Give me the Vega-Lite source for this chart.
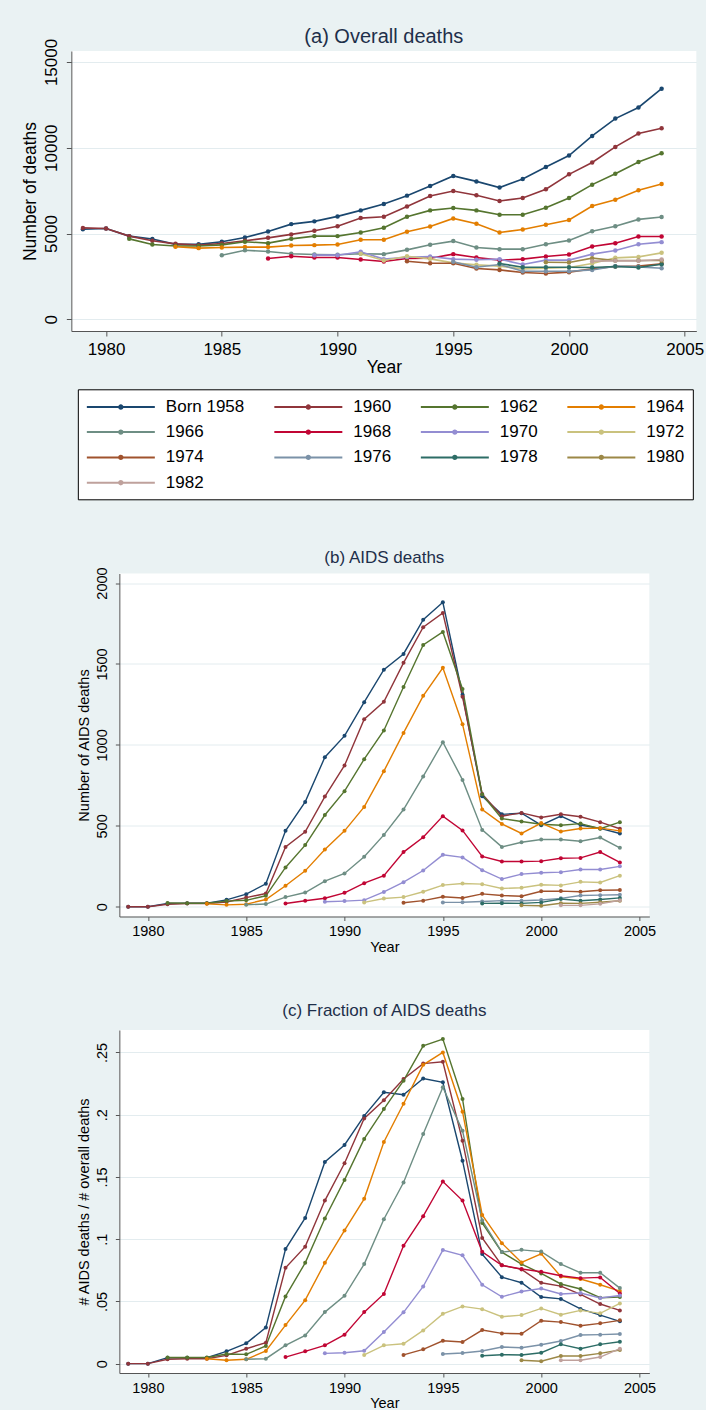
{
  "$schema": "https://vega.github.io/schema/vega-lite/v6.json",
  "background": "#eaf2f3",
  "padding": {"left": 21, "top": 27, "right": 2, "bottom": 0},
  "spacing": 48.5,
  "center": true,
  "resolve": {"scale": {"color": "independent", "fill": "independent", "x": "independent", "y": "independent"}, "legend": {"color": "independent", "fill": "independent"}},
  "config": {
    "font": "Liberation Sans",
    "view": {"fill": "white", "stroke": null},
    "axis": {"domainColor": "#555555", "tickColor": "#555555", "labelColor": "#000000", "titleColor": "#000000", "titleFontWeight": "normal", "gridColor": "#e3ecef", "gridWidth": 1, "labelFont": "Liberation Sans", "titleFont": "Liberation Sans"},
    "title": {"font": "Liberation Sans", "fontWeight": "normal", "color": "#1e2f4a", "anchor": "middle", "frame": "group"}
  },
  "datasets": {
    "cohorts": [
      {"cohort":"Born 1958","year":1979,"overall":5250,"aids":0,"fraction":0},
      {"cohort":"Born 1958","year":1980,"overall":5290,"aids":0,"fraction":0},
      {"cohort":"Born 1958","year":1981,"overall":4850,"aids":20,"fraction":0.0048},
      {"cohort":"Born 1958","year":1982,"overall":4680,"aids":22,"fraction":0.0048},
      {"cohort":"Born 1958","year":1983,"overall":4370,"aids":22,"fraction":0.0048},
      {"cohort":"Born 1958","year":1984,"overall":4370,"aids":43,"fraction":0.0099},
      {"cohort":"Born 1958","year":1985,"overall":4520,"aids":78,"fraction":0.0163},
      {"cohort":"Born 1958","year":1986,"overall":4770,"aids":142,"fraction":0.029},
      {"cohort":"Born 1958","year":1987,"overall":5120,"aids":469,"fraction":0.092},
      {"cohort":"Born 1958","year":1988,"overall":5550,"aids":648,"fraction":0.117},
      {"cohort":"Born 1958","year":1989,"overall":5710,"aids":924,"fraction":0.162},
      {"cohort":"Born 1958","year":1990,"overall":6000,"aids":1056,"fraction":0.1757},
      {"cohort":"Born 1958","year":1991,"overall":6350,"aids":1264,"fraction":0.199},
      {"cohort":"Born 1958","year":1992,"overall":6720,"aids":1465,"fraction":0.218},
      {"cohort":"Born 1958","year":1993,"overall":7210,"aids":1562,"fraction":0.216},
      {"cohort":"Born 1958","year":1994,"overall":7770,"aids":1774,"fraction":0.229},
      {"cohort":"Born 1958","year":1995,"overall":8360,"aids":1881,"fraction":0.226},
      {"cohort":"Born 1958","year":1996,"overall":8040,"aids":1310,"fraction":0.163},
      {"cohort":"Born 1958","year":1997,"overall":7680,"aids":683,"fraction":0.088},
      {"cohort":"Born 1958","year":1998,"overall":8180,"aids":571,"fraction":0.0695},
      {"cohort":"Born 1958","year":1999,"overall":8880,"aids":578,"fraction":0.065},
      {"cohort":"Born 1958","year":2000,"overall":9545,"aids":504,"fraction":0.0535},
      {"cohort":"Born 1958","year":2001,"overall":10690,"aids":560,"fraction":0.052},
      {"cohort":"Born 1958","year":2002,"overall":11700,"aids":505,"fraction":0.044},
      {"cohort":"Born 1958","year":2003,"overall":12350,"aids":484,"fraction":0.039},
      {"cohort":"Born 1958","year":2004,"overall":13440,"aids":453,"fraction":0.034},
      {"cohort":"1960","year":1979,"overall":5330,"aids":0,"fraction":0},
      {"cohort":"1960","year":1980,"overall":5290,"aids":0,"fraction":0},
      {"cohort":"1960","year":1981,"overall":4850,"aids":16,"fraction":0.0035},
      {"cohort":"1960","year":1982,"overall":4580,"aids":20,"fraction":0.004},
      {"cohort":"1960","year":1983,"overall":4400,"aids":20,"fraction":0.004},
      {"cohort":"1960","year":1984,"overall":4325,"aids":30,"fraction":0.0067},
      {"cohort":"1960","year":1985,"overall":4420,"aids":57,"fraction":0.012},
      {"cohort":"1960","year":1986,"overall":4580,"aids":82,"fraction":0.0168},
      {"cohort":"1960","year":1987,"overall":4750,"aids":370,"fraction":0.077},
      {"cohort":"1960","year":1988,"overall":4950,"aids":463,"fraction":0.094},
      {"cohort":"1960","year":1989,"overall":5160,"aids":681,"fraction":0.131},
      {"cohort":"1960","year":1990,"overall":5430,"aids":873,"fraction":0.161},
      {"cohort":"1960","year":1991,"overall":5900,"aids":1159,"fraction":0.197},
      {"cohort":"1960","year":1992,"overall":5980,"aids":1266,"fraction":0.2115},
      {"cohort":"1960","year":1993,"overall":6580,"aids":1507,"fraction":0.2286},
      {"cohort":"1960","year":1994,"overall":7190,"aids":1727,"fraction":0.241},
      {"cohort":"1960","year":1995,"overall":7480,"aids":1815,"fraction":0.2425},
      {"cohort":"1960","year":1996,"overall":7230,"aids":1297,"fraction":0.179},
      {"cohort":"1960","year":1997,"overall":6900,"aids":697,"fraction":0.101},
      {"cohort":"1960","year":1998,"overall":7070,"aids":560,"fraction":0.079},
      {"cohort":"1960","year":1999,"overall":7580,"aids":580,"fraction":0.0757},
      {"cohort":"1960","year":2000,"overall":8450,"aids":552,"fraction":0.065},
      {"cohort":"1960","year":2001,"overall":9140,"aids":572,"fraction":0.0623},
      {"cohort":"1960","year":2002,"overall":10050,"aids":556,"fraction":0.0556},
      {"cohort":"1960","year":2003,"overall":10830,"aids":523,"fraction":0.0479},
      {"cohort":"1960","year":2004,"overall":11140,"aids":482,"fraction":0.0428},
      {"cohort":"1962","year":1981,"overall":4690,"aids":24,"fraction":0.005},
      {"cohort":"1962","year":1982,"overall":4360,"aids":22,"fraction":0.005},
      {"cohort":"1962","year":1983,"overall":4270,"aids":22,"fraction":0.005},
      {"cohort":"1962","year":1984,"overall":4270,"aids":35,"fraction":0.0078},
      {"cohort":"1962","year":1985,"overall":4340,"aids":40,"fraction":0.0075},
      {"cohort":"1962","year":1986,"overall":4520,"aids":68,"fraction":0.0142},
      {"cohort":"1962","year":1987,"overall":4440,"aids":243,"fraction":0.054},
      {"cohort":"1962","year":1988,"overall":4690,"aids":381,"fraction":0.081},
      {"cohort":"1962","year":1989,"overall":4850,"aids":567,"fraction":0.1166},
      {"cohort":"1962","year":1990,"overall":4850,"aids":714,"fraction":0.1476},
      {"cohort":"1962","year":1991,"overall":5065,"aids":912,"fraction":0.1805},
      {"cohort":"1962","year":1992,"overall":5340,"aids":1089,"fraction":0.2045},
      {"cohort":"1962","year":1993,"overall":5980,"aids":1358,"fraction":0.2273},
      {"cohort":"1962","year":1994,"overall":6350,"aids":1618,"fraction":0.2553},
      {"cohort":"1962","year":1995,"overall":6490,"aids":1698,"fraction":0.2607},
      {"cohort":"1962","year":1996,"overall":6350,"aids":1346,"fraction":0.2126},
      {"cohort":"1962","year":1997,"overall":6100,"aids":693,"fraction":0.113},
      {"cohort":"1962","year":1998,"overall":6100,"aids":545,"fraction":0.0896},
      {"cohort":"1962","year":1999,"overall":6505,"aids":527,"fraction":0.08},
      {"cohort":"1962","year":2000,"overall":7070,"aids":510,"fraction":0.0725},
      {"cohort":"1962","year":2001,"overall":7850,"aids":504,"fraction":0.064},
      {"cohort":"1962","year":2002,"overall":8490,"aids":514,"fraction":0.06},
      {"cohort":"1962","year":2003,"overall":9175,"aids":482,"fraction":0.053},
      {"cohort":"1962","year":2004,"overall":9680,"aids":523,"fraction":0.0535},
      {"cohort":"1964","year":1983,"overall":4230,"aids":18,"fraction":0.004},
      {"cohort":"1964","year":1984,"overall":4150,"aids":12,"fraction":0.0027},
      {"cohort":"1964","year":1985,"overall":4190,"aids":16,"fraction":0.0035},
      {"cohort":"1964","year":1986,"overall":4210,"aids":45,"fraction":0.0102},
      {"cohort":"1964","year":1987,"overall":4210,"aids":130,"fraction":0.031},
      {"cohort":"1964","year":1988,"overall":4300,"aids":222,"fraction":0.051},
      {"cohort":"1964","year":1989,"overall":4325,"aids":354,"fraction":0.081},
      {"cohort":"1964","year":1990,"overall":4360,"aids":469,"fraction":0.107},
      {"cohort":"1964","year":1991,"overall":4640,"aids":617,"fraction":0.1324},
      {"cohort":"1964","year":1992,"overall":4640,"aids":838,"fraction":0.178},
      {"cohort":"1964","year":1993,"overall":5100,"aids":1074,"fraction":0.2088},
      {"cohort":"1964","year":1994,"overall":5415,"aids":1303,"fraction":0.24},
      {"cohort":"1964","year":1995,"overall":5880,"aids":1476,"fraction":0.25},
      {"cohort":"1964","year":1996,"overall":5570,"aids":1128,"fraction":0.2024},
      {"cohort":"1964","year":1997,"overall":5065,"aids":601,"fraction":0.1195},
      {"cohort":"1964","year":1998,"overall":5240,"aids":512,"fraction":0.0968},
      {"cohort":"1964","year":1999,"overall":5510,"aids":453,"fraction":0.0813},
      {"cohort":"1964","year":2000,"overall":5790,"aids":517,"fraction":0.0882},
      {"cohort":"1964","year":2001,"overall":6600,"aids":465,"fraction":0.07},
      {"cohort":"1964","year":2002,"overall":6970,"aids":484,"fraction":0.068},
      {"cohort":"1964","year":2003,"overall":7520,"aids":486,"fraction":0.0634},
      {"cohort":"1964","year":2004,"overall":7890,"aids":469,"fraction":0.0583},
      {"cohort":"1966","year":1985,"overall":3740,"aids":13,"fraction":0.0035},
      {"cohort":"1966","year":1986,"overall":4030,"aids":17,"fraction":0.004},
      {"cohort":"1966","year":1987,"overall":3950,"aids":60,"fraction":0.0147},
      {"cohort":"1966","year":1988,"overall":3820,"aids":88,"fraction":0.0227},
      {"cohort":"1966","year":1989,"overall":3780,"aids":158,"fraction":0.0414},
      {"cohort":"1966","year":1990,"overall":3760,"aids":206,"fraction":0.0545},
      {"cohort":"1966","year":1991,"overall":3820,"aids":309,"fraction":0.08},
      {"cohort":"1966","year":1992,"overall":3800,"aids":444,"fraction":0.116},
      {"cohort":"1966","year":1993,"overall":4050,"aids":601,"fraction":0.1455},
      {"cohort":"1966","year":1994,"overall":4345,"aids":805,"fraction":0.1845},
      {"cohort":"1966","year":1995,"overall":4560,"aids":1017,"fraction":0.222},
      {"cohort":"1966","year":1996,"overall":4190,"aids":784,"fraction":0.187},
      {"cohort":"1966","year":1997,"overall":4090,"aids":475,"fraction":0.115},
      {"cohort":"1966","year":1998,"overall":4090,"aids":370,"fraction":0.0896},
      {"cohort":"1966","year":1999,"overall":4380,"aids":399,"fraction":0.0914},
      {"cohort":"1966","year":2000,"overall":4600,"aids":416,"fraction":0.09},
      {"cohort":"1966","year":2001,"overall":5140,"aids":416,"fraction":0.08},
      {"cohort":"1966","year":2002,"overall":5430,"aids":405,"fraction":0.073},
      {"cohort":"1966","year":2003,"overall":5825,"aids":428,"fraction":0.073},
      {"cohort":"1966","year":2004,"overall":5960,"aids":364,"fraction":0.0607},
      {"cohort":"1968","year":1987,"overall":3545,"aids":20,"fraction":0.0053},
      {"cohort":"1968","year":1988,"overall":3680,"aids":37,"fraction":0.0099},
      {"cohort":"1968","year":1989,"overall":3600,"aids":53,"fraction":0.0147},
      {"cohort":"1968","year":1990,"overall":3600,"aids":86,"fraction":0.0233},
      {"cohort":"1968","year":1991,"overall":3490,"aids":146,"fraction":0.0414},
      {"cohort":"1968","year":1992,"overall":3370,"aids":192,"fraction":0.056},
      {"cohort":"1968","year":1993,"overall":3545,"aids":338,"fraction":0.0947},
      {"cohort":"1968","year":1994,"overall":3565,"aids":430,"fraction":0.1185},
      {"cohort":"1968","year":1995,"overall":3800,"aids":560,"fraction":0.1463},
      {"cohort":"1968","year":1996,"overall":3600,"aids":472,"fraction":0.131},
      {"cohort":"1968","year":1997,"overall":3450,"aids":311,"fraction":0.0898},
      {"cohort":"1968","year":1998,"overall":3510,"aids":280,"fraction":0.079},
      {"cohort":"1968","year":1999,"overall":3660,"aids":280,"fraction":0.076},
      {"cohort":"1968","year":2000,"overall":3780,"aids":282,"fraction":0.0738},
      {"cohort":"1968","year":2001,"overall":4250,"aids":300,"fraction":0.0706},
      {"cohort":"1968","year":2002,"overall":4440,"aids":302,"fraction":0.0687},
      {"cohort":"1968","year":2003,"overall":4830,"aids":338,"fraction":0.0693},
      {"cohort":"1968","year":2004,"overall":4830,"aids":274,"fraction":0.0564},
      {"cohort":"1970","year":1989,"overall":3740,"aids":31,"fraction":0.0083},
      {"cohort":"1970","year":1990,"overall":3740,"aids":35,"fraction":0.0088},
      {"cohort":"1970","year":1991,"overall":3935,"aids":41,"fraction":0.0104},
      {"cohort":"1970","year":1992,"overall":3510,"aids":92,"fraction":0.0254},
      {"cohort":"1970","year":1993,"overall":3620,"aids":152,"fraction":0.0412},
      {"cohort":"1970","year":1994,"overall":3660,"aids":224,"fraction":0.062},
      {"cohort":"1970","year":1995,"overall":3510,"aids":321,"fraction":0.0912},
      {"cohort":"1970","year":1996,"overall":3470,"aids":305,"fraction":0.087},
      {"cohort":"1970","year":1997,"overall":3510,"aids":226,"fraction":0.0634},
      {"cohort":"1970","year":1998,"overall":3195,"aids":171,"fraction":0.0537},
      {"cohort":"1970","year":1999,"overall":3450,"aids":202,"fraction":0.058},
      {"cohort":"1970","year":2000,"overall":3450,"aids":210,"fraction":0.0604},
      {"cohort":"1970","year":2001,"overall":3800,"aids":214,"fraction":0.056},
      {"cohort":"1970","year":2002,"overall":4010,"aids":230,"fraction":0.0567},
      {"cohort":"1970","year":2003,"overall":4380,"aids":230,"fraction":0.0527},
      {"cohort":"1970","year":2004,"overall":4500,"aids":250,"fraction":0.0548},
      {"cohort":"1972","year":1991,"overall":3820,"aids":27,"fraction":0.007},
      {"cohort":"1972","year":1992,"overall":3430,"aids":51,"fraction":0.0147},
      {"cohort":"1972","year":1993,"overall":3680,"aids":60,"fraction":0.016},
      {"cohort":"1972","year":1994,"overall":3525,"aids":93,"fraction":0.0267},
      {"cohort":"1972","year":1995,"overall":3290,"aids":134,"fraction":0.04},
      {"cohort":"1972","year":1996,"overall":3175,"aids":144,"fraction":0.046},
      {"cohort":"1972","year":1997,"overall":3100,"aids":140,"fraction":0.0438},
      {"cohort":"1972","year":1998,"overall":2940,"aids":113,"fraction":0.0377},
      {"cohort":"1972","year":1999,"overall":2980,"aids":118,"fraction":0.039},
      {"cohort":"1972","year":2000,"overall":3020,"aids":136,"fraction":0.0444},
      {"cohort":"1972","year":2001,"overall":3255,"aids":132,"fraction":0.0393},
      {"cohort":"1972","year":2002,"overall":3585,"aids":154,"fraction":0.0428},
      {"cohort":"1972","year":2003,"overall":3640,"aids":150,"fraction":0.0404},
      {"cohort":"1972","year":2004,"overall":3875,"aids":192,"fraction":0.0484},
      {"cohort":"1974","year":1993,"overall":3390,"aids":25,"fraction":0.007},
      {"cohort":"1974","year":1994,"overall":3270,"aids":38,"fraction":0.0115},
      {"cohort":"1974","year":1995,"overall":3270,"aids":62,"fraction":0.0184},
      {"cohort":"1974","year":1996,"overall":2960,"aids":54,"fraction":0.0174},
      {"cohort":"1974","year":1997,"overall":2880,"aids":80,"fraction":0.027},
      {"cohort":"1974","year":1998,"overall":2730,"aids":70,"fraction":0.0243},
      {"cohort":"1974","year":1999,"overall":2670,"aids":65,"fraction":0.024},
      {"cohort":"1974","year":2000,"overall":2750,"aids":96,"fraction":0.0345},
      {"cohort":"1974","year":2001,"overall":2940,"aids":97,"fraction":0.0334},
      {"cohort":"1974","year":2002,"overall":3080,"aids":93,"fraction":0.0305},
      {"cohort":"1974","year":2003,"overall":3100,"aids":102,"fraction":0.0324},
      {"cohort":"1974","year":2004,"overall":3235,"aids":104,"fraction":0.0348},
      {"cohort":"1976","year":1995,"overall":3350,"aids":27,"fraction":0.0078},
      {"cohort":"1976","year":1996,"overall":3040,"aids":28,"fraction":0.0086},
      {"cohort":"1976","year":1997,"overall":3195,"aids":33,"fraction":0.0102},
      {"cohort":"1976","year":1998,"overall":2805,"aids":38,"fraction":0.0134},
      {"cohort":"1976","year":1999,"overall":2805,"aids":37,"fraction":0.0128},
      {"cohort":"1976","year":2000,"overall":2805,"aids":42,"fraction":0.0152},
      {"cohort":"1976","year":2001,"overall":2880,"aids":52,"fraction":0.0182},
      {"cohort":"1976","year":2002,"overall":3100,"aids":70,"fraction":0.023},
      {"cohort":"1976","year":2003,"overall":3060,"aids":72,"fraction":0.0233},
      {"cohort":"1976","year":2004,"overall":2980,"aids":74,"fraction":0.0238},
      {"cohort":"1978","year":1997,"overall":3255,"aids":21,"fraction":0.0064},
      {"cohort":"1978","year":1998,"overall":3040,"aids":22,"fraction":0.0072},
      {"cohort":"1978","year":1999,"overall":3040,"aids":21,"fraction":0.007},
      {"cohort":"1978","year":2000,"overall":3040,"aids":27,"fraction":0.0088},
      {"cohort":"1978","year":2001,"overall":3020,"aids":48,"fraction":0.0155},
      {"cohort":"1978","year":2002,"overall":3080,"aids":37,"fraction":0.012},
      {"cohort":"1978","year":2003,"overall":3020,"aids":45,"fraction":0.0155},
      {"cohort":"1978","year":2004,"overall":3215,"aids":55,"fraction":0.0176},
      {"cohort":"1980","year":1999,"overall":3330,"aids":9,"fraction":0.0027},
      {"cohort":"1980","year":2000,"overall":3310,"aids":6,"fraction":0.0019},
      {"cohort":"1980","year":2001,"overall":3565,"aids":22,"fraction":0.0061},
      {"cohort":"1980","year":2002,"overall":3430,"aids":21,"fraction":0.0061},
      {"cohort":"1980","year":2003,"overall":3430,"aids":28,"fraction":0.0083},
      {"cohort":"1980","year":2004,"overall":3430,"aids":37,"fraction":0.011},
      {"cohort":"1982","year":2001,"overall":3390,"aids":9,"fraction":0.0027},
      {"cohort":"1982","year":2002,"overall":3410,"aids":9,"fraction":0.0027},
      {"cohort":"1982","year":2003,"overall":3410,"aids":18,"fraction":0.0053},
      {"cohort":"1982","year":2004,"overall":3490,"aids":40,"fraction":0.012}
    ]
  },
  "vconcat": [
    {
      "width": 625,
      "height": 280,
      "title": {"text": "(a) Overall deaths", "fontSize": 20, "offset": -9},
      "data": {"name": "cohorts"},
      "encoding": {
        "x": {"field": "year", "type": "quantitative", "scale": {"domain": [1978.5, 2005.5], "nice": false, "zero": false},
              "axis": {"values": [1980, 1985, 1990, 1995, 2000, 2005], "format": "d", "title": "Year", "labelFontSize": 17, "titleFontSize": 17.5, "tickSize": 5, "labelPadding": 5, "titlePadding": 1, "labelFlush": false, "grid": false}},
        "y": {"field": "overall", "type": "quantitative", "scale": {"domain": [-680, 15640], "nice": false, "zero": false},
              "axis": {"values": [0, 5000, 10000, 15000], "format": "d", "title": "Number of deaths", "labelAngle": -90, "labelAlign": "center", "labelBaseline": "bottom", "labelFontSize": 17, "titleFontSize": 17.5, "tickSize": 5, "labelPadding": 6, "titlePadding": 2.5, "grid": true}}
      },
      "layer": [
        {
          "mark": {"type": "line", "strokeWidth": 1.6},
          "encoding": {
            "color": {"field": "cohort", "type": "nominal",
              "scale": {"domain": ["Born 1958", "1960", "1962", "1964", "1966", "1968", "1970", "1972", "1974", "1976", "1978", "1980", "1982"],
                        "range": ["#1a476f", "#90353b", "#55752f", "#e37e00", "#6e8e84", "#c10534", "#938dd2", "#cac27e", "#a0522d", "#7b92a8", "#2d6d66", "#9c8847", "#bfa19c"]},
              "legend": {"orient": "none", "legendX": 6.5, "legendY": 338.3, "direction": "horizontal", "columns": 4, "title": null,
                         "strokeColor": "#000000", "fillColor": "#ffffff", "padding": 8,
                         "symbolType": "M-4,0H4M0.2,0A0.2,0.2,0,1,1,-0.2,0A0.2,0.2,0,1,1,0.2,0",
                         "symbolSize": 289, "symbolStrokeWidth": 2, "symbolOffset": 25.5,
                         "labelOffset": 35.5, "labelFontSize": 17, "labelFont": "Liberation Sans", "labelColor": "#000000", "labelLimit": 200,
                         "columnPadding": 25.5, "rowPadding": 7.3}}
          }
        },
        {
          "mark": {"type": "point", "filled": true, "size": 20, "opacity": 1},
          "encoding": {
            "fill": {"field": "cohort", "type": "nominal",
              "scale": {"domain": ["Born 1958", "1960", "1962", "1964", "1966", "1968", "1970", "1972", "1974", "1976", "1978", "1980", "1982"],
                        "range": ["#1a476f", "#90353b", "#55752f", "#e37e00", "#6e8e84", "#c10534", "#938dd2", "#cac27e", "#a0522d", "#7b92a8", "#2d6d66", "#9c8847", "#bfa19c"]},
              "legend": null}
          }
        }
      ]
    },
    {
      "width": 530,
      "height": 343,
      "title": {"text": "(b) AIDS deaths", "fontSize": 17, "offset": -0.5},
      "data": {"name": "cohorts"},
      "encoding": {
        "x": {"field": "year", "type": "quantitative", "scale": {"domain": [1978.55, 2005.5], "nice": false, "zero": false},
              "axis": {"values": [1980, 1985, 1990, 1995, 2000, 2005], "format": "d", "title": "Year", "labelFontSize": 14.5, "titleFontSize": 14.5, "tickSize": 4, "labelPadding": 4, "titlePadding": 2, "labelFlush": false, "grid": false}},
        "y": {"field": "aids", "type": "quantitative", "scale": {"domain": [-60, 2059], "nice": false, "zero": false},
              "axis": {"values": [0, 500, 1000, 1500, 2000], "format": "d", "title": "Number of AIDS deaths", "labelAngle": -90, "labelAlign": "center", "labelBaseline": "bottom", "labelFontSize": 14.5, "titleFontSize": 14.5, "tickSize": 4, "labelPadding": 6, "titlePadding": 3, "grid": true}}
      },
      "layer": [
        {
          "mark": {"type": "line", "strokeWidth": 1.4},
          "encoding": {
            "color": {"field": "cohort", "type": "nominal",
              "scale": {"domain": ["Born 1958", "1960", "1962", "1964", "1966", "1968", "1970", "1972", "1974", "1976", "1978", "1980", "1982"],
                        "range": ["#1a476f", "#90353b", "#55752f", "#e37e00", "#6e8e84", "#c10534", "#938dd2", "#cac27e", "#a0522d", "#7b92a8", "#2d6d66", "#9c8847", "#bfa19c"]},
              "legend": null}
          }
        },
        {
          "mark": {"type": "point", "filled": true, "size": 16, "opacity": 1},
          "encoding": {
            "fill": {"field": "cohort", "type": "nominal",
              "scale": {"domain": ["Born 1958", "1960", "1962", "1964", "1966", "1968", "1970", "1972", "1974", "1976", "1978", "1980", "1982"],
                        "range": ["#1a476f", "#90353b", "#55752f", "#e37e00", "#6e8e84", "#c10534", "#938dd2", "#cac27e", "#a0522d", "#7b92a8", "#2d6d66", "#9c8847", "#bfa19c"]},
              "legend": null}
          }
        }
      ]
    },
    {
      "width": 530,
      "height": 343,
      "title": {"text": "(c) Fraction of AIDS deaths", "fontSize": 17, "offset": 10},
      "data": {"name": "cohorts"},
      "encoding": {
        "x": {"field": "year", "type": "quantitative", "scale": {"domain": [1978.55, 2005.5], "nice": false, "zero": false},
              "axis": {"values": [1980, 1985, 1990, 1995, 2000, 2005], "format": "d", "title": "Year", "labelFontSize": 14.5, "titleFontSize": 14.5, "tickSize": 4, "labelPadding": 4, "titlePadding": 2, "labelFlush": false, "grid": false}},
        "y": {"field": "fraction", "type": "quantitative", "scale": {"domain": [-0.0075, 0.268], "nice": false, "zero": false},
              "axis": {"values": [0, 0.05, 0.1, 0.15, 0.2, 0.25], "labelExpr": "datum.value == 0 ? '0' : replace(format(datum.value, '.2~f'), '0.', '.')", "title": "# AIDS deaths / # overall deaths", "labelAngle": -90, "labelAlign": "center", "labelBaseline": "bottom", "labelFontSize": 14.5, "titleFontSize": 14.5, "tickSize": 4, "labelPadding": 6, "titlePadding": 3, "grid": true}}
      },
      "layer": [
        {
          "mark": {"type": "line", "strokeWidth": 1.4},
          "encoding": {
            "color": {"field": "cohort", "type": "nominal",
              "scale": {"domain": ["Born 1958", "1960", "1962", "1964", "1966", "1968", "1970", "1972", "1974", "1976", "1978", "1980", "1982"],
                        "range": ["#1a476f", "#90353b", "#55752f", "#e37e00", "#6e8e84", "#c10534", "#938dd2", "#cac27e", "#a0522d", "#7b92a8", "#2d6d66", "#9c8847", "#bfa19c"]},
              "legend": null}
          }
        },
        {
          "mark": {"type": "point", "filled": true, "size": 16, "opacity": 1},
          "encoding": {
            "fill": {"field": "cohort", "type": "nominal",
              "scale": {"domain": ["Born 1958", "1960", "1962", "1964", "1966", "1968", "1970", "1972", "1974", "1976", "1978", "1980", "1982"],
                        "range": ["#1a476f", "#90353b", "#55752f", "#e37e00", "#6e8e84", "#c10534", "#938dd2", "#cac27e", "#a0522d", "#7b92a8", "#2d6d66", "#9c8847", "#bfa19c"]},
              "legend": null}
          }
        }
      ]
    }
  ]
}
